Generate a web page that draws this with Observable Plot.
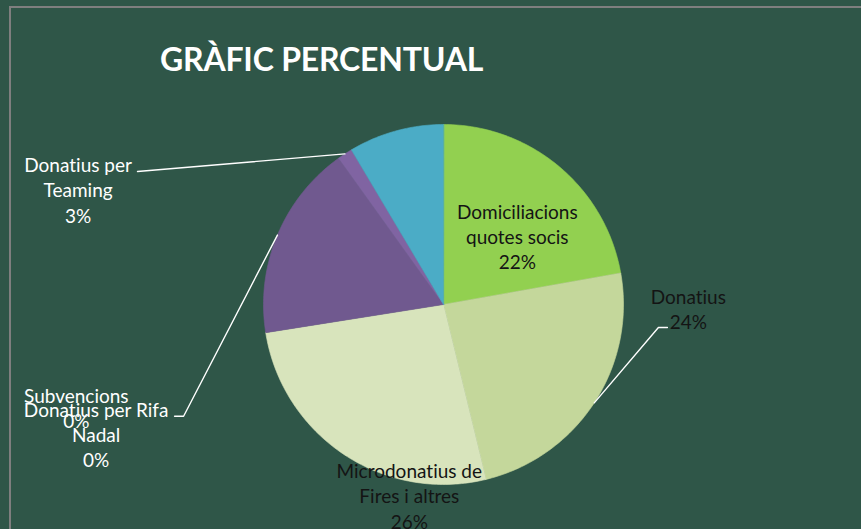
<!DOCTYPE html>
<html>
<head>
<meta charset="utf-8">
<script src="https://cdn.jsdelivr.net/npm/d3@7"></script>
<script src="https://cdn.jsdelivr.net/npm/@observablehq/plot@0.6"></script>
<style>
  html, body { margin: 0; padding: 0; background: #2F5648; }
  #wrap { position: relative; width: 861px; height: 529px; overflow: hidden; background: #2F5648; }
  #wrap svg { position: absolute; left: 0; top: 0; font-variant-ligatures: none; }
  #wrap svg text { font-variant-ligatures: none; font-feature-settings: "liga" 0, "clig" 0; }
  #frame { position: absolute; left: 9px; top: 6px; width: 1000px; height: 1000px;
           border-left: 2px solid #7F7F7F; border-top: 2px solid #7F7F7F; pointer-events: none; }
  #title { position: absolute; left: 160px; top: 43px; font-family: Lato, "Open Sans", sans-serif;
           font-weight: bold; font-size: 32px; letter-spacing: -0.2px; line-height: 1; color: #ffffff; white-space: nowrap; }
</style>
</head>
<body>
<div id="wrap">
  <div id="frame"></div>
  <div id="title">GRÀFIC PERCENTUAL</div>
</div>
<script>
// ---- data ----
const categories = [
  "Domiciliacions quotes socis",
  "Donatius",
  "Microdonatius de Fires i altres",
  "Subvencions",
  "Donatius per Rifa Nadal",
  "(sense etiqueta 1)",
  "Donatius per Teaming",
  "(sense etiqueta 2)"
];
const values = [22.2, 24.0, 26.3, 0, 0, 17.6, 1.35, 8.55];
const percentLabels = ["22%", "24%", "26%", "0%", "0%", "", "3%", ""];
const labelText = [
  "Domiciliacions\nquotes socis",
  "Donatius",
  "Microdonatius de\nFires i altres",
  "Subvencions",
  "Donatius per Rifa\nNadal",
  "",
  "Donatius per\nTeaming",
  ""
];
const sliceColors = ["#92D050", "#C4D79B", "#D8E4BC", "#C0504D", "#F79646", "#70598F", "#8064A2", "#4BACC6"];

// ---- layout (label anchors in pie-radius units, relative to centre) ----
const labelLayout = [
  {i: 0, u: 0.41, v: 0.38, color: "#141414"},
  {i: 1, u: 1.36, v: -0.02, color: "#141414"},
  {i: 2, u: -0.19, v: -1.06, color: "#141414"},
  {i: 3, u: -2.04, v: -0.57, color: "#ffffff"},
  {i: 4, u: -1.93, v: -0.72, color: "#ffffff"},
  {i: 6, u: -2.03, v: 0.64, color: "#ffffff"}
];
const leaderLayout = [
  {slice: 1, pts: [[1.194, -0.128], [1.244, -0.128]]},
  {slice: 6, pts: [[-1.70, 0.739]]},
  {slice: 5, pts: [[-1.444, -0.621], [-1.494, -0.621]]}
];

// ---- build pie geometry from data ----
const pie = d3.pie().sort(null).value(d => d.value).startAngle(0).endAngle(2 * Math.PI);
const table = categories.map((name, i) => ({name, value: values[i], i}));
const arcs = pie(table);
const polyPts = [];
for (const a of arcs) {
  if (a.endAngle - a.startAngle <= 0) continue;
  const n = Math.max(2, Math.ceil((a.endAngle - a.startAngle) * 180 / Math.PI));
  polyPts.push({name: a.data.name, x: 0, y: 0});
  for (let k = 0; k <= n; k++) {
    const t = a.startAngle + (a.endAngle - a.startAngle) * k / n;
    polyPts.push({name: a.data.name, x: Math.sin(t), y: Math.cos(t)});
  }
}
const labels = labelLayout.map(l => ({
  text: labelText[l.i] + "\n" + percentLabels[l.i], x: l.u, y: l.v, color: l.color
}));
const leaderPts = [];
leaderLayout.forEach((l, j) => {
  const a = arcs[l.slice];
  const mid = (a.startAngle + a.endAngle) / 2;
  leaderPts.push({z: j, x: Math.sin(mid), y: Math.cos(mid)});
  l.pts.forEach(p => leaderPts.push({z: j, x: p[0], y: p[1]}));
});

const R = 180, cx = 443, cy = 304, W = 861, H = 529;
const chart = Plot.plot({
  width: W, height: H, margin: 0,
  style: {background: "transparent", overflow: "visible"},
  x: {domain: [-cx / R, (W - cx) / R], axis: null},
  y: {domain: [-(H - cy) / R, cy / R], axis: null},
  color: {domain: categories, range: sliceColors},
  marks: [
    Plot.line(polyPts, {x: "x", y: "y", z: "name", fill: "name", stroke: "name", strokeWidth: 0.6, curve: "linear-closed"}),
    Plot.line(leaderPts, {x: "x", y: "y", z: "z", stroke: "#ffffff", strokeWidth: 1.4}),
    Plot.text(labels, {x: "x", y: "y", text: "text", fill: d => d.color, fontSize: 19,
      fontFamily: "Lato, 'Open Sans', sans-serif", lineHeight: 1.33, textAnchor: "middle", lineAnchor: "middle"})
  ]
});
document.getElementById("wrap").prepend(chart);
</script>
</body>
</html>
